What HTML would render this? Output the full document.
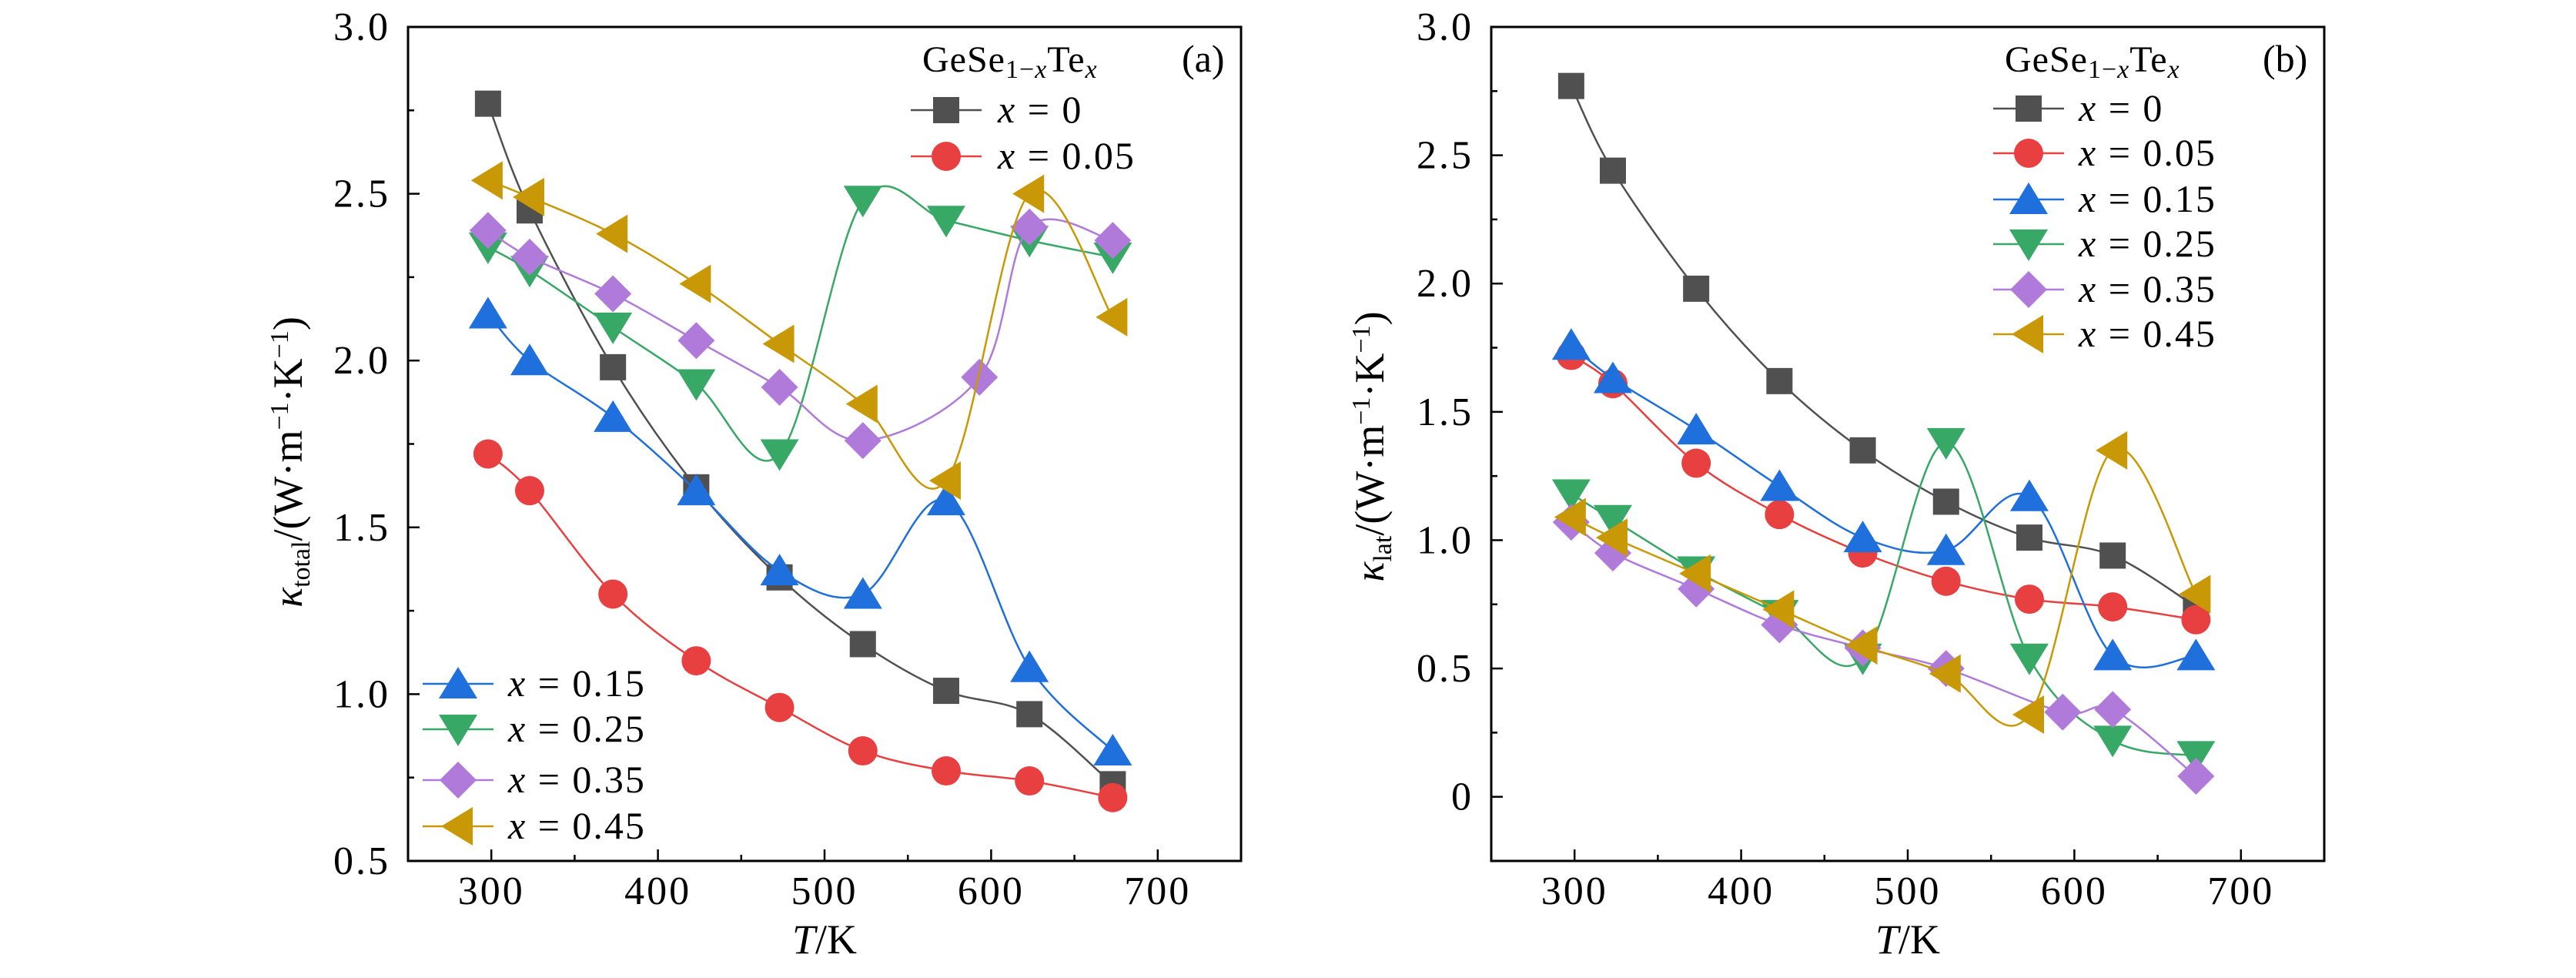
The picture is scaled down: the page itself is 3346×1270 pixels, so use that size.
<!DOCTYPE html>
<html><head><meta charset="utf-8"><style>
body{margin:0;background:#fff}
svg{display:block;font-family:"Liberation Serif",serif}
</style></head><body>
<svg id="chart" width="3346" height="1270" viewBox="0 0 3346 1270" xmlns="http://www.w3.org/2000/svg"></svg>
<script>
// ---- data ----
const tempsFull = [298,323,373,423,473,523,573,623,673];
const temps35 = [298,323,373,423,473,523,593,623,673];
const temps45 = [298,323,373,423,473,523,573,623,673];
const seriesLabels = ["0","0.05","0.15","0.25","0.35","0.45"];
// panel (a) total thermal conductivity
const aX0   = [2.77,2.45,1.98,1.62,1.35,1.15,1.01,0.94,0.73];
const aX05  = [1.72,1.61,1.30,1.10,0.96,0.83,0.77,0.74,0.69];
const aX15  = [2.14,2.00,1.83,1.61,1.37,1.30,1.58,1.08,0.83];
const aX25  = [2.34,2.27,2.10,1.93,1.72,2.48,2.42,2.36,2.31];
const aX35  = [2.39,2.31,2.20,2.06,1.92,1.76,1.95,2.40,2.36];
const aX45  = [2.54,2.49,2.38,2.23,2.05,1.87,1.64,2.50,2.13];
// panel (b) lattice thermal conductivity
const bX0   = [2.77,2.44,1.98,1.62,1.35,1.15,1.01,0.94,0.74];
const bX05  = [1.72,1.61,1.30,1.10,0.95,0.84,0.77,0.74,0.69];
const bX15  = [1.76,1.63,1.43,1.21,1.01,0.96,1.17,0.55,0.55];
const bX25  = [1.18,1.08,0.88,0.71,0.54,1.38,0.54,0.22,0.16];
const bX35  = [1.07,0.95,0.81,0.67,0.58,0.50,0.33,0.34,0.08];
const bX45  = [1.09,1.01,0.87,0.73,0.59,0.48,0.32,1.35,0.79];
const xTicks = [300,400,500,600,700];
const aYTicks = ["0.5","1.0","1.5","2.0","2.5","3.0"];
const bYTicks = ["0","0.5","1.0","1.5","2.0","2.5","3.0"];

const NS="http://www.w3.org/2000/svg";
const svg=document.getElementById('chart');
const colors=["#505050","#e84040","#1f6fdc","#37a865","#b07ada","#c99806"];
const shapes=["square","circle","up","down","diamond","left"];
function mk(tag,attrs,parent){const e=document.createElementNS(NS,tag);for(const k in attrs)e.setAttribute(k,attrs[k]);(parent||svg).appendChild(e);return e;}
function marker(shape,cx,cy,col,g){
  let e;
  if(shape==="square") e=mk('rect',{x:cx-17,y:cy-17,width:34,height:34,fill:col},g);
  else if(shape==="circle") e=mk('circle',{cx:cx,cy:cy,r:19,fill:col},g);
  else if(shape==="up") e=mk('polygon',{points:`${cx},${cy-22} ${cx+25},${cy+19} ${cx-25},${cy+19}`,fill:col},g);
  else if(shape==="down") e=mk('polygon',{points:`${cx},${cy+22} ${cx+25},${cy-19} ${cx-25},${cy-19}`,fill:col},g);
  else if(shape==="diamond") e=mk('polygon',{points:`${cx},${cy-24} ${cx+24},${cy} ${cx},${cy+24} ${cx-24},${cy}`,fill:col},g);
  else e=mk('polygon',{points:`${cx-22},${cy} ${cx+19},${cy-25} ${cx+19},${cy+25}`,fill:col},g);
  return e;
}
function spline(pts){
  let d=`M${pts[0][0]},${pts[0][1]}`;
  for(let i=0;i<pts.length-1;i++){
    const p0=pts[Math.max(0,i-1)],p1=pts[i],p2=pts[i+1],p3=pts[Math.min(pts.length-1,i+2)];
    const c1=[p1[0]+(p2[0]-p0[0])/6,p1[1]+(p2[1]-p0[1])/6];
    const c2=[p2[0]-(p3[0]-p1[0])/6,p2[1]-(p3[1]-p1[1])/6];
    d+=` C${c1[0]},${c1[1]} ${c2[0]},${c2[1]} ${p2[0]},${p2[1]}`;
  }
  return d;
}
function legendEntry(g,i,lx,ly,tx){
  const le=mk('g',{},g);
  
  
  mk('line',{x1:lx,y1:ly,x2:lx+92,y2:ly,stroke:colors[i],'stroke-width':2.5},le);
  marker(shapes[i],lx+46,ly,colors[i],le);
  const t=mk('text',{x:tx,y:ly+16,'font-size':50,'letter-spacing':2},le);
  t.innerHTML=`<tspan font-style="italic">x</tspan> = ${seriesLabels[i]}`;
}
function panel(opt){
  const g=mk('g',{});
  
  
  const L=opt.left,R=opt.left+1082,T=35,B=1118;
  const X=v=>L+(v-250)/500*(R-L);
  const Y=v=>B-(v-opt.ymin)/(3.0-opt.ymin)*(B-T);
  for(let v=250;v<=750;v+=50){
    const major=v%100===0;
    mk('line',{x1:X(v),y1:B,x2:X(v),y2:B-(major?15:8),stroke:'#000','stroke-width':2.5},g);
  }
  xTicks.forEach(v=>{
    const t=mk('text',{x:X(v),y:1174,'text-anchor':'middle','font-size':52,'letter-spacing':3},g);
    
    
    t.textContent=v;
  });
  for(let v=opt.ymin;v<=3.0001;v+=0.25){
    const major=Math.abs(v*2-Math.round(v*2))<1e-6;
    mk('line',{x1:L,y1:Y(v),x2:L+(major?15:8),y2:Y(v),stroke:'#000','stroke-width':2.5},g);
  }
  opt.yticks.forEach(s=>{
    const t=mk('text',{x:L-23,y:Y(parseFloat(s))+17,'text-anchor':'end','font-size':52,'letter-spacing':3},g);
    
    
    t.textContent=s;
  });
  opt.series.forEach((ys,i)=>{
    const tx=opt.temps[i];
    const sg=mk('g',{},g);
    
    
    const pts=ys.map((v,j)=>[X(tx[j]),Y(v)]);
    mk('path',{d:spline(pts),fill:'none',stroke:colors[i],'stroke-width':2.5},sg);
    pts.forEach(p=>marker(shapes[i],p[0],p[1],colors[i],sg));
  });
  const fr=mk('rect',{x:L,y:T,width:R-L,height:B-T,fill:'none',stroke:'#000','stroke-width':3},g);
  
  
  const xt=mk('text',{x:(L+R)/2,y:1238,'text-anchor':'middle','font-size':54},g);
  
  
  xt.innerHTML='<tspan font-style="italic">T</tspan>/K';
  const yt=mk('text',{x:0,y:0,'text-anchor':'middle','font-size':54,transform:`translate(${opt.ytx},${opt.yty}) rotate(-90)`},g);
  
  
  yt.innerHTML=`<tspan font-style="italic">κ</tspan><tspan font-size="34" dy="10">${opt.sub}</tspan><tspan dy="-10">/(W·m</tspan><tspan font-size="34" dy="-18">−1</tspan><tspan dy="18">·K</tspan><tspan font-size="34" dy="-18">−1</tspan><tspan dy="18">)</tspan>`;
  const lt=mk('text',{x:opt.legX+15,y:93,'font-size':48,'letter-spacing':1},g);
  
  
  lt.innerHTML='GeSe<tspan font-size="34" dy="8">1−<tspan font-style="italic">x</tspan></tspan><tspan dy="-8">Te</tspan><tspan font-size="34" dy="8" font-style="italic">x</tspan>';
  const pl=mk('text',{x:opt.labX,y:93,'font-size':50},g);
  
  
  pl.textContent=opt.label;
  opt.legend(g);
}
panel({name:'panel-a-total-conductivity',left:530,ymin:0.5,yticks:aYTicks,
  series:[aX0,aX05,aX15,aX25,aX35,aX45],
  temps:[tempsFull,tempsFull,tempsFull,tempsFull,temps35,temps45],
  sub:'total',ytx:392,yty:600,legX:1183,labX:1535,label:'(a)',
  legend:g=>{
    legendEntry(g,0,1183,143,1296);
    legendEntry(g,1,1183,203,1296);
    legendEntry(g,2,549,888,660);
    legendEntry(g,3,549,947,660);
    legendEntry(g,4,549,1013,660);
    legendEntry(g,5,549,1073,660);
  }});
panel({name:'panel-b-lattice-conductivity',left:1937,ymin:-0.25,yticks:bYTicks,
  series:[bX0,bX05,bX15,bX25,bX35,bX45],
  temps:[tempsFull,tempsFull,tempsFull,tempsFull,temps35,temps45],
  sub:'lat',ytx:1797,yty:580,legX:2589,labX:2939,label:'(b)',
  legend:g=>{
    const ys=[141,199,259,317,376,434];
    for(let i=0;i<6;i++) legendEntry(g,i,2589,ys[i],2700);
  }});
</script>
</body></html>
